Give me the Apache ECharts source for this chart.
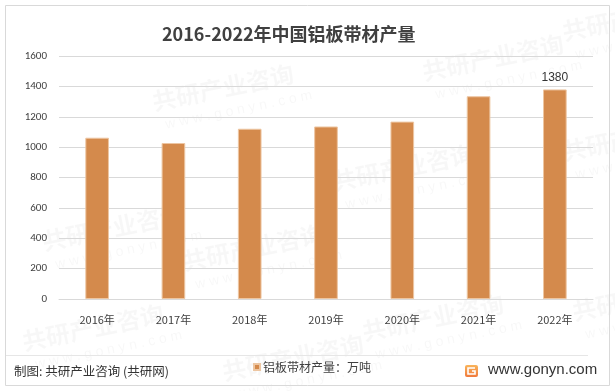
<!DOCTYPE html>
<html>
<head>
<meta charset="utf-8">
<script src="https://cdn.jsdelivr.net/npm/echarts@6/dist/echarts.min.js"></script>
<style>
html,body{margin:0;padding:0;background:#fff;}
#main{width:615px;height:391px;}
</style>
</head>
<body>
<div id="main"></div>
<script>
var categories = ['2016年','2017年','2018年','2019年','2020年','2021年','2022年'];
var values = [1062, 1027, 1121, 1136, 1168, 1335, 1380];
var yTicks = [0, 200, 400, 600, 800, 1000, 1200, 1400, 1600];
var seriesName = '铝板带材产量：万吨';
var titleText = '2016-2022年中国铝板带材产量';
var sourceText = '制图: 共研产业咨询 (共研网)';
var siteText = 'www.gonyn.com';

var cjk = '"Noto Sans CJK SC", "Microsoft YaHei", sans-serif';
var chart = echarts.init(document.getElementById('main'), null, {renderer: 'canvas'});

var wm = [];
var wmPos = [[150,90],[420,60],[560,20],[180,250],[330,170],[560,140],[40,230],[360,320],[570,300],[220,360],[20,330]];
wmPos.forEach(function(p){
  wm.push({type:'text', x:p[0], y:p[1], rotation:0.2, z:-1, silent:true,
    style:{text:'共研产业咨询', fill:'rgba(0,0,0,0.03)', font:'bold 24px ' + cjk}});
  wm.push({type:'text', x:p[0]+14, y:p[1]+28, rotation:0.2, z:-1, silent:true,
    style:{text:'w w w . g o n y n . c o m', fill:'rgba(0,0,0,0.03)', font:'14px sans-serif'}});
});

chart.setOption({
  animation: false,
  backgroundColor: '#fff',
  title: {
    text: titleText, left: 157, top: 20,
    textStyle: {fontFamily: cjk, fontSize: 18, fontWeight: 'bold', color: '#404040'}
  },
  legend: {
    data: [seriesName], left: 248, top: 356, icon: 'rect', itemWidth: 6, itemHeight: 6, itemGap: 3,
    textStyle: {fontFamily: cjk, fontSize: 12, color: '#404040', padding: [0,0,0,-2]}
  },
  grid: {left: 59, right: 22, top: 56, bottom: 92},
  xAxis: {
    type: 'category', data: categories,
    axisLine: {lineStyle: {color: '#D9D9D9'}},
    axisTick: {show: false},
    axisLabel: {fontFamily: cjk, fontSize: 11, color: '#404040', margin: 15}
  },
  yAxis: {
    type: 'value', min: yTicks[0], max: yTicks[yTicks.length-1], interval: 200,
    axisLine: {show: false}, axisTick: {show: false},
    splitLine: {lineStyle: {color: '#D9D9D9'}},
    axisLabel: {fontFamily: 'Calibri, "Liberation Sans", sans-serif', fontSize: 11, color: '#404040', margin: 12,
      formatter: function(v){ return String(v); }}
  },
  series: [{
    name: seriesName, type: 'bar', data: values, barWidth: '31%',
    itemStyle: {color: '#D48A4C', borderColor: '#EDC6A2', borderWidth: 1},
    label: {
      show: true, position: 'top', distance: 6, fontSize: 12, color: '#333',
      fontFamily: '"Liberation Sans", sans-serif',
      formatter: function(p){ return p.dataIndex === values.length - 1 ? p.value : ''; }
    }
  }],
  graphic: wm.concat([
    {type:'rect', shape:{x:5.5, y:5.5, width:604, height:380}, silent:true,
      style:{fill:'none', stroke:'#D9D9D9', lineWidth:1}},
    {type:'line', shape:{x1:6, y1:355.5, x2:588, y2:355.5}, silent:true,
      style:{stroke:'#E6E6E6', lineWidth:1}},
    {type:'text', x:14, y:365, silent:true,
      style:{text:sourceText, fill:'#333', font:'12.5px ' + cjk}},
    {type:'rect', shape:{x:465, y:365, width:13, height:12, r:2}, silent:true,
      style:{fill:new echarts.graphic.LinearGradient(0,0,0,1,[{offset:0,color:'#F9B45A'},{offset:1,color:'#F07A3C'}])}},
    {type:'polyline', shape:{points:[[475,368],[468,368],[468,374],[475,374],[475,371],[472,371]]}, silent:true,
      style:{stroke:'#fff', lineWidth:1.6, fill:'none'}},
    {type:'text', x:488, y:362, silent:true,
      style:{text:siteText, fill:'#333', font:'15px "Liberation Sans", Arial, sans-serif'}}
  ])
});
</script>
</body>
</html>
